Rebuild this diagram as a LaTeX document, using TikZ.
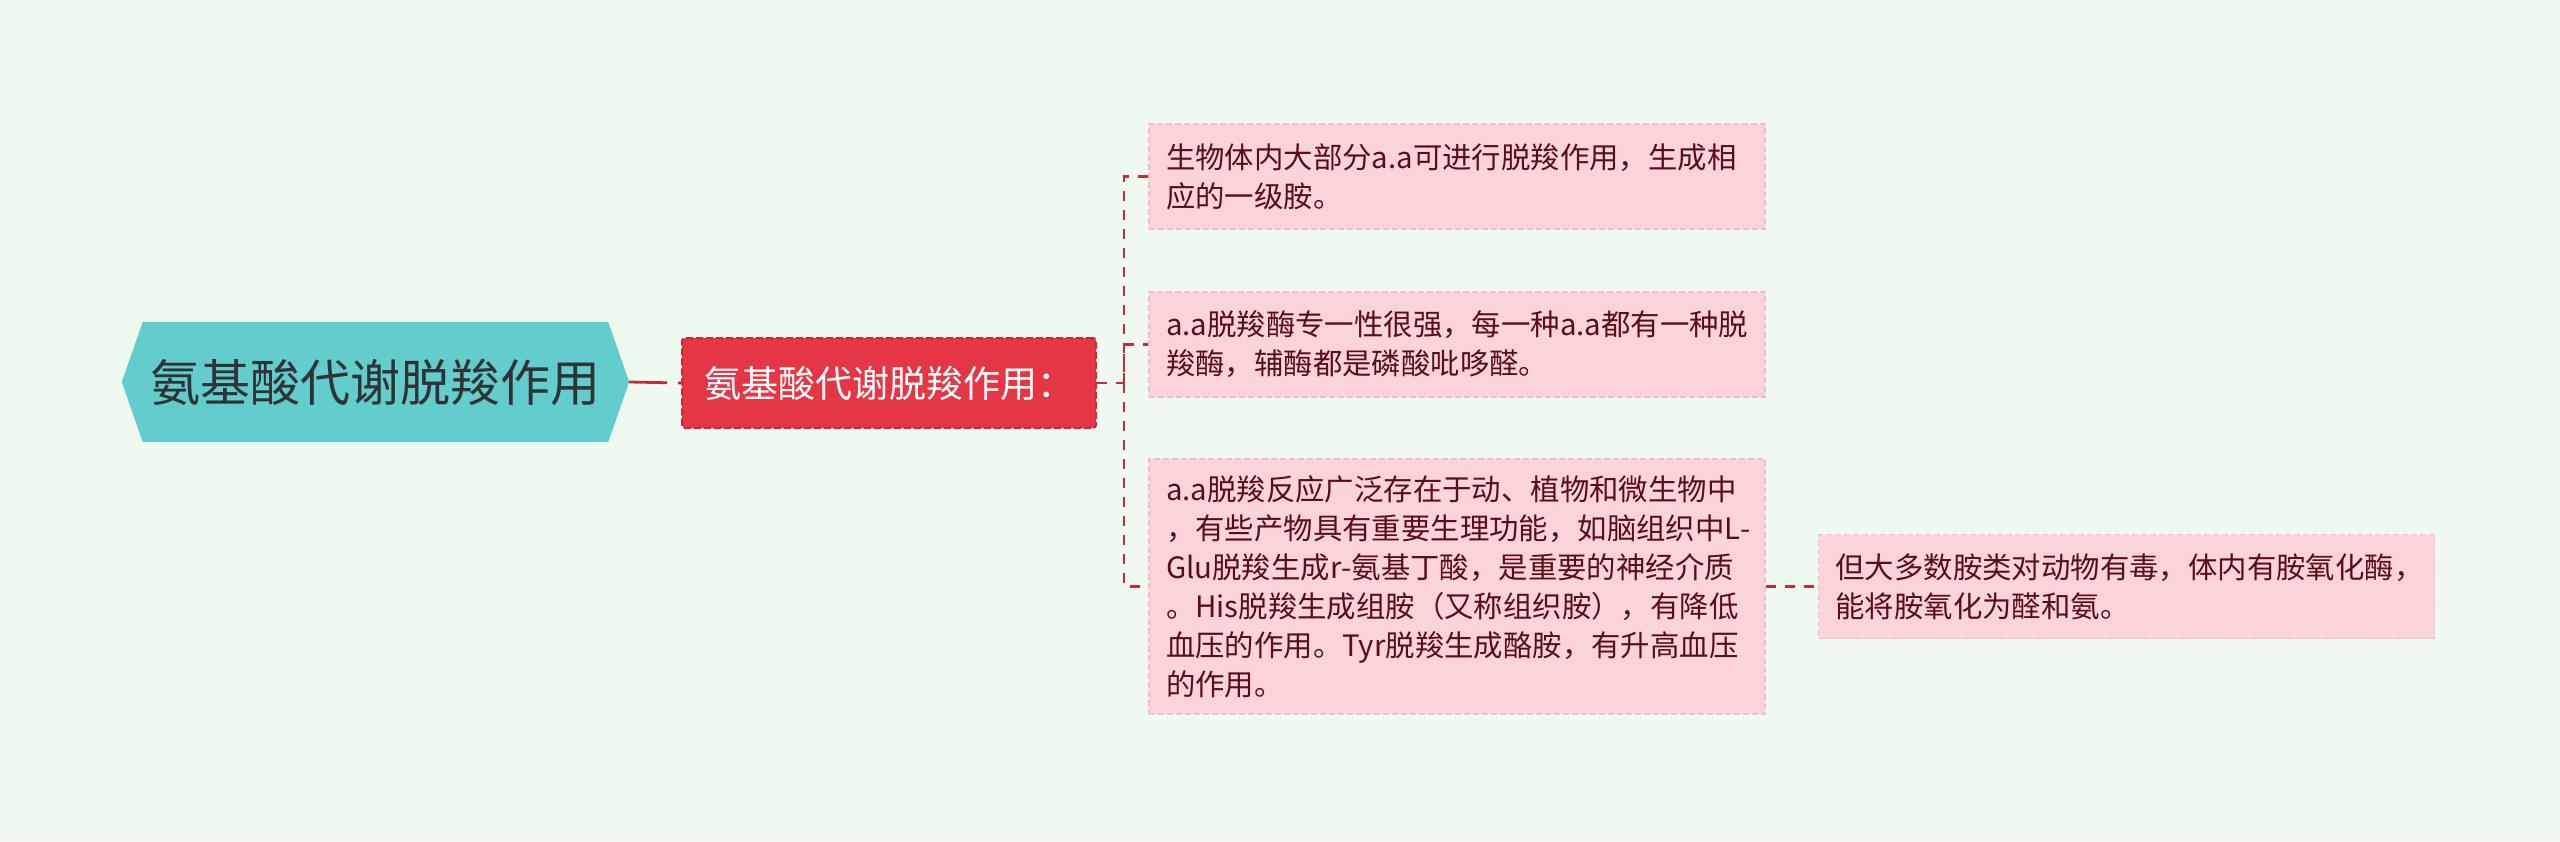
\documentclass[tikz,border=0pt]{standalone}
\usepackage{fontspec}
\newfontfamily\cjk{Noto Sans CJK SC}
\usetikzlibrary{backgrounds}
\definecolor{bgc}{HTML}{F0F9EF}
\definecolor{rootc}{HTML}{63CCCC}
\definecolor{roottext}{HTML}{2E3436}
\definecolor{redc}{HTML}{E43645}
\definecolor{redline}{HTML}{C42A3A}
\definecolor{pinkc}{HTML}{FAD4D9}
\definecolor{pinkline}{HTML}{F2BFC6}
\definecolor{leaftext}{HTML}{5A0D16}
\tikzset{
  conn/.style={draw=redline, line width=2.2pt, dash pattern=on 10pt off 9pt},
  leafbox/.style={fill=pinkc, draw=pinkline, line width=1.5pt, dash pattern=on 6pt off 3pt,
    inner xsep=17pt, inner ysep=0pt, text width=582pt, align=left, minimum width=616pt,
    text=leaftext, font=\cjk\fontsize{29.4}{39}\selectfont},
  subbox/.style={fill=redc, draw=redline, line width=2pt, dash pattern=on 7pt off 3pt,
    rounded corners=3pt, minimum width=414pt, minimum height=90pt, inner sep=0pt,
    text=white, font=\cjk\fontsize{37}{44}\selectfont},
  rootbox/.style={minimum width=465pt, minimum height=120pt, inner sep=0pt,
    text=roottext, font=\cjk\fontsize{50}{60}\selectfont}
}
\begin{document}
\begin{tikzpicture}[x=1pt,y=-1pt]
\useasboundingbox (0,0) rectangle (2560,841);

\node[rootbox] (root) at (375.5,382) {氨基酸代谢脱羧作用};
\begin{scope}[on background layer]
\fill[bgc] (0,0) rectangle (2560,841);
\fill[rootc] (root.north west) -- (root.north east) -- ([xshift=21pt]root.east)
  -- (root.south east) -- (root.south west) -- ([xshift=-21pt]root.west) -- cycle;
\end{scope}

\node[subbox] (sub) at (889,383) {氨基酸代谢脱羧作用：};

\node[leafbox, minimum height=105pt] (c1) at (1457,176.5)
  {生物体内大部分a.a可进行脱羧作用，生成相\\应的一级胺。};
\node[leafbox, minimum height=105pt] (c2) at (1457,344.5)
  {a.a脱羧酶专一性很强，每一种a.a都有一种脱\\羧酶，辅酶都是磷酸吡哆醛。};
\node[leafbox, minimum height=255pt] (c3) at (1457,586.5)
  {a.a脱羧反应广泛存在于动、植物和微生物中\\，有些产物具有重要生理功能，如脑组织中L\mbox{-}\\Glu脱羧生成r\mbox{-}氨基丁酸，是重要的神经介质\\。His脱羧生成组胺（又称组织胺），有降低\\血压的作用。Tyr脱羧生成酪胺，有升高血压\\的作用。};
\node[leafbox, minimum height=104pt] (c4) at (2126.5,586.5)
  {但大多数胺类对动物有毒，体内有胺氧化酶，\\能将胺氧化为醛和氨。};

\draw[draw=redline, line width=2.8pt, dash pattern=on 38pt off 11pt on 10pt off 40pt]
  ([xshift=21pt]root.east) -- (sub.west);
\draw[conn] (sub.east) -- ++(27,0) coordinate (trunk) |- (c1.west);
\draw[conn] (trunk) |- (c2.west);
\draw[conn] (trunk) |- (c3.west);
\draw[conn] (c3.east) -- (c4.west);
\end{tikzpicture}
\end{document}
